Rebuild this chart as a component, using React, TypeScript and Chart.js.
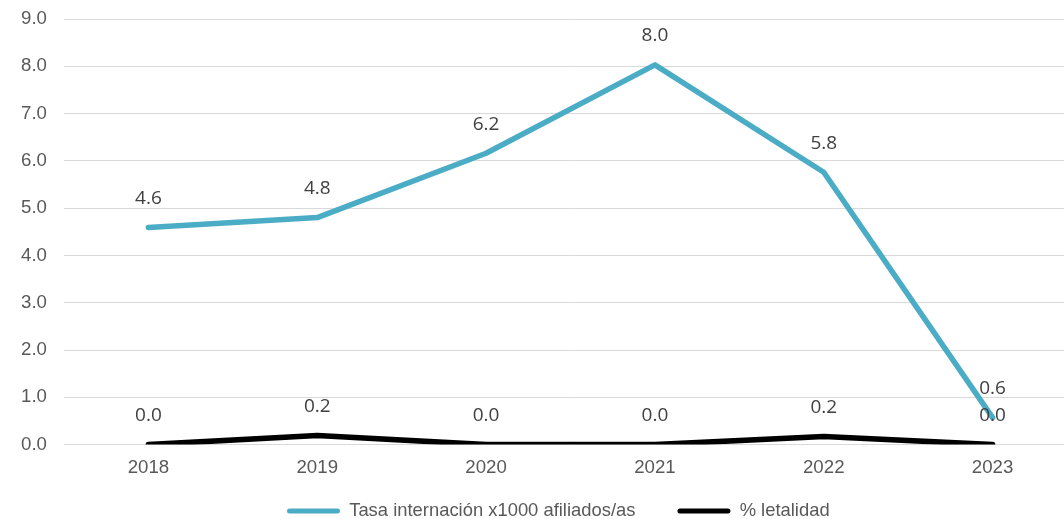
import { useEffect, useRef } from "react";
import { Chart, registerables } from "chart.js";

Chart.register(...registerables);

const years = ["2018", "2019", "2020", "2021", "2022", "2023"];
const tasaInternacion = [4.59, 4.8, 6.16, 8.03, 5.76, 0.57];
const letalidad = [0.0, 0.19, 0.0, 0.0, 0.17, 0.0];
const seriesNames = ["Tasa internación x1000 afiliados/as", "% letalidad"];
const seriesColors = ["#4BACC6", "#000000"];

const FONT = 18.67;
const LEGEND_FONT = 18.4;
const LEGEND_PAD = 42;

const valueLabels = {
  id: "valueLabels",
  afterDatasetsDraw(chart: any) {
    const ctx = chart.ctx;
    ctx.save();
    ctx.font = '19px "Open Sans"';
    ctx.fillStyle = "#404040";
    ctx.textAlign = "center";
    ctx.textBaseline = "middle";
    chart.data.datasets.forEach((ds: any, i: number) => {
      const meta = chart.getDatasetMeta(i);
      meta.data.forEach((pt: any, j: number) => {
        ctx.fillText(Number(ds.data[j]).toFixed(1), pt.x, pt.y - 29);
      });
    });
    ctx.restore();
  },
};

const placeLegend = {
  id: "placeLegend",
  afterLayout(chart: any) {
    const lg = chart.legend;
    if (!lg) return;
    const h = LEGEND_FONT + 2 * LEGEND_PAD + 4;
    lg.left = 287 - LEGEND_PAD;
    lg.right = chart.width;
    lg.width = lg.right - lg.left;
    lg.top = 511 - LEGEND_PAD - LEGEND_FONT / 2;
    lg.height = h;
    lg.bottom = lg.top + h;
  },
};

export default function App() {
  const ref = useRef<HTMLCanvasElement | null>(null);
  useEffect(() => {
    if (!ref.current) return;
    const chart = new Chart(ref.current, {
      type: "line",
      data: {
        labels: years,
        datasets: [
          {
            label: seriesNames[0],
            data: tasaInternacion,
            borderColor: seriesColors[0],
            backgroundColor: seriesColors[0],
            borderWidth: 5.5,
            pointRadius: 0,
            borderCapStyle: "round",
            borderJoinStyle: "round",
            tension: 0,
          },
          {
            label: seriesNames[1],
            data: letalidad,
            borderColor: seriesColors[1],
            backgroundColor: seriesColors[1],
            borderWidth: 5.5,
            pointRadius: 0,
            borderCapStyle: "round",
            borderJoinStyle: "round",
            tension: 0,
          },
        ],
      },
      options: {
        animation: false,
        responsive: false,
        layout: { padding: { left: 0, right: 0, top: 19, bottom: 27 } },
        scales: {
          x: {
            offset: true,
            grid: { display: false, drawTicks: false },
            border: { display: false },
            ticks: { color: "#595959", font: { family: "Liberation Sans", size: FONT }, padding: 12 },
          },
          y: {
            min: 0,
            max: 9,
            afterFit(scale: any) {
              scale.width = 64;
              scale.paddingTop = 0;
              scale.paddingBottom = 0;
            },
            grid: { color: "#D9D9D9", lineWidth: 1, drawTicks: false },
            border: { display: false },
            ticks: {
              stepSize: 1,
              padding: 17,
              color: "#595959",
              font: { family: "Liberation Sans", size: FONT },
              callback: (v: any) => Number(v).toFixed(1),
            },
          },
        },
        plugins: {
          tooltip: { enabled: false },
          legend: {
            position: "bottom",
            align: "start",
            maxHeight: 1,
            labels: {
              color: "#595959",
              font: { family: "Liberation Sans", size: LEGEND_FONT },
              boxWidth: 53,
              boxHeight: 5,
              padding: LEGEND_PAD,
              useBorderRadius: true,
              borderRadius: 2.5,
              generateLabels: (c: any) =>
                c.data.datasets.map((ds: any, i: number) => ({
                  text: ds.label,
                  fillStyle: seriesColors[i],
                  strokeStyle: seriesColors[i],
                  lineWidth: 0,
                  hidden: false,
                  datasetIndex: i,
                  fontColor: "#595959",
                  borderRadius: 2.5,
                })),
            },
          },
        },
      },
      plugins: [valueLabels, placeLegend],
    });
    return () => chart.destroy();
  }, []);
  return (
    <div style={{ position: "fixed", left: 0, top: 0, width: 1064, height: 519, overflow: "hidden", background: "#fff" }}>
      <canvas ref={ref} width={1077} height={519} style={{ width: 1077, height: 519, display: "block" }} />
    </div>
  );
}
